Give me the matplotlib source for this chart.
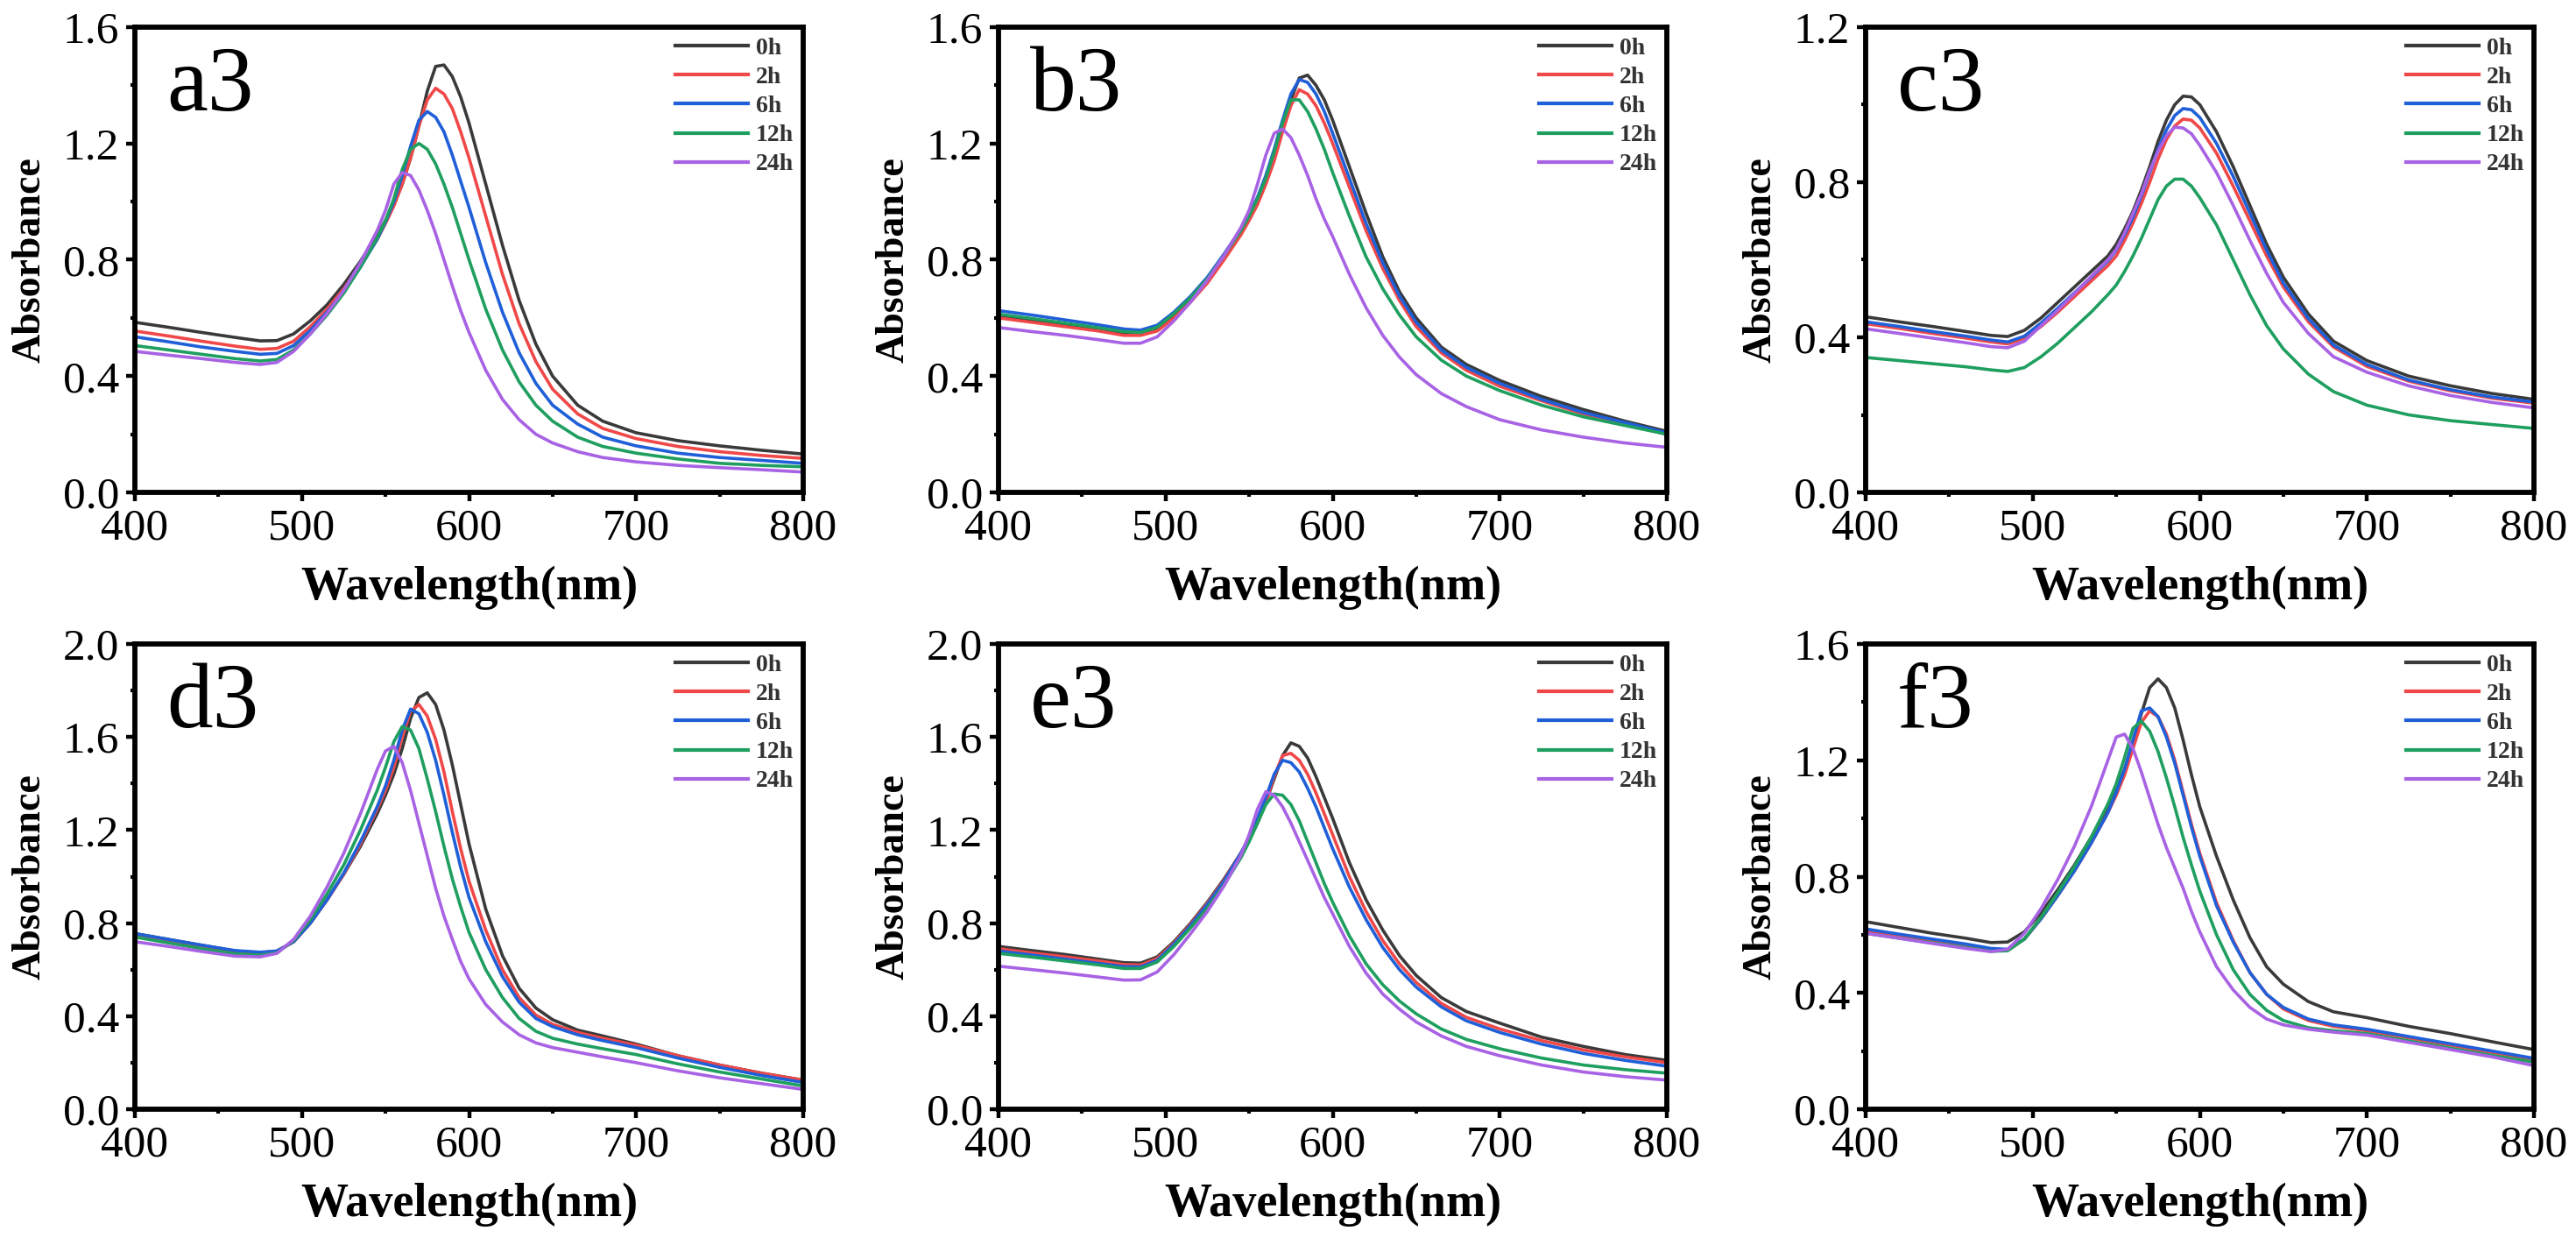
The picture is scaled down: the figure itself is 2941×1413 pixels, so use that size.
import numpy as np
import matplotlib
matplotlib.use('Agg')
import matplotlib.pyplot as plt
from matplotlib.ticker import MultipleLocator

plt.rcParams['font.family'] = ['Liberation Serif', 'DejaVu Serif']

# wavelength grid (nm), shared by all panels
wl = [400, 420, 440, 460, 475, 485, 495, 505, 515, 525, 535, 545, 550, 555, 560,
      565, 570, 575, 580, 585, 590, 595, 600, 610, 620, 630, 640, 650, 665, 680,
      700, 725, 750, 775, 800]

times = ['0h', '2h', '6h', '12h', '24h']
colors = ['#3a3a3a', '#f04848', '#1f5fd8', '#1f9f5f', '#a862e4']

# panel a3
a_0h = [.585, .568, .550, .533, .521, .522, .545, .59, .645, .715, .795, .885, .935, .99, 1.06,
        1.15, 1.26, 1.38, 1.465, 1.47, 1.43, 1.36, 1.27, 1.06, .85, .66, .51, .40, .30, .245,
        .205, .178, .16, .145, .132]
a_2h = [.555, .538, .52, .503, .492, .495, .52, .57, .63, .70, .78, .87, .925, .985, 1.06,
        1.15, 1.26, 1.35, 1.39, 1.37, 1.32, 1.24, 1.15, .95, .75, .58, .45, .355, .27, .22,
        .185, .158, .14, .127, .117]
a_6h = [.535, .518, .50, .485, .475, .478, .505, .557, .62, .69, .775, .87, .93, 1.00, 1.09,
        1.19, 1.28, 1.31, 1.29, 1.24, 1.16, 1.07, .98, .79, .62, .48, .375, .30, .235, .19,
        .16, .135, .12, .11, .10]
a_12h = [.505, .49, .475, .46, .452, .457, .49, .545, .61, .685, .775, .875, .935, 1.01, 1.11,
         1.18, 1.20, 1.18, 1.13, 1.06, .98, .89, .80, .63, .49, .38, .30, .245, .19, .158,
         .135, .115, .10, .093, .088]
a_24h = [.485, .472, .46, .447, .44, .447, .485, .545, .615, .695, .79, .90, .97, 1.06, 1.10,
         1.09, 1.04, .97, .89, .80, .71, .625, .55, .42, .32, .25, .20, .17, .14, .12,
         .105, .093, .085, .078, .07]

# panel b3
b_0h = [.605, .59, .575, .56, .547, .55, .565, .61, .665, .73, .81, .895, .945, 1.00, 1.07,
        1.15, 1.25, 1.35, 1.425, 1.435, 1.40, 1.35, 1.28, 1.12, .96, .81, .69, .60, .50, .44,
        .385, .33, .285, .245, .21]
b_2h = [.60, .585, .57, .555, .54, .54, .555, .60, .655, .72, .80, .885, .935, .99, 1.06,
        1.14, 1.24, 1.33, 1.385, 1.37, 1.33, 1.27, 1.20, 1.05, .90, .77, .66, .57, .48, .42,
        .365, .315, .27, .235, .20]
b_6h = [.625, .61, .593, .576, .562, .558, .575, .62, .675, .74, .82, .905, .955, 1.015, 1.09,
        1.18, 1.28, 1.37, 1.42, 1.41, 1.37, 1.31, 1.235, 1.08, .925, .79, .675, .585, .49, .43,
        .375, .32, .275, .24, .205]
b_12h = [.613, .598, .582, .566, .553, .55, .568, .615, .67, .735, .815, .90, .95, 1.01, 1.08,
         1.17, 1.27, 1.35, 1.35, 1.31, 1.25, 1.18, 1.10, .95, .81, .70, .61, .535, .455, .40,
         .35, .30, .26, .23, .20]
b_24h = [.567, .553, .54, .525, .513, .513, .535, .59, .655, .73, .815, .91, .97, 1.06, 1.16,
         1.235, 1.25, 1.22, 1.16, 1.09, 1.01, .94, .88, .75, .635, .54, .465, .405, .34, .295,
         .25, .215, .19, .17, .155]

# panel c3
c_0h = [.453, .44, .428, .415, .405, .402, .418, .45, .49, .53, .57, .61, .64, .68, .725,
        .78, .84, .905, .96, 1.00, 1.022, 1.02, 1.00, .93, .84, .74, .64, .555, .46, .39,
        .34, .30, .275, .255, .24]
c_2h = [.435, .423, .41, .398, .388, .383, .397, .428, .465, .505, .545, .585, .61, .65, .695,
        .745, .80, .86, .91, .945, .963, .96, .94, .875, .79, .70, .61, .53, .44, .375,
        .325, .287, .262, .243, .23]
c_6h = [.44, .428, .415, .403, .393, .388, .403, .437, .475, .515, .555, .597, .625, .665, .71,
        .765, .825, .885, .935, .972, .99, .987, .967, .90, .815, .72, .625, .54, .448, .38,
        .33, .29, .265, .246, .233]
c_12h = [.348, .34, .332, .324, .316, .312, .322, .35, .385, .425, .465, .51, .535, .57, .61,
         .655, .705, .755, .79, .808, .808, .79, .76, .69, .60, .51, .43, .37, .305, .26,
         .225, .20, .185, .175, .165]
c_24h = [.422, .41, .398, .386, .376, .373, .39, .43, .47, .513, .557, .60, .627, .67, .72,
         .77, .83, .88, .92, .942, .94, .925, .895, .825, .74, .65, .565, .49, .41, .35,
         .31, .275, .25, .232, .218]

# panel d3
d_0h = [.755, .73, .705, .68, .672, .68, .72, .80, .90, 1.01, 1.13, 1.27, 1.35, 1.44, 1.55,
        1.68, 1.77, 1.79, 1.74, 1.63, 1.48, 1.31, 1.14, .86, .66, .52, .435, .385, .34, .315,
        .28, .23, .19, .155, .125]
d_2h = [.745, .72, .697, .675, .67, .678, .72, .80, .90, 1.01, 1.14, 1.29, 1.37, 1.47, 1.60,
        1.71, 1.74, 1.69, 1.59, 1.45, 1.28, 1.12, .98, .77, .60, .48, .405, .365, .33, .305,
        .275, .23, .19, .155, .125]
d_6h = [.755, .73, .705, .682, .675, .68, .72, .80, .90, 1.015, 1.15, 1.30, 1.39, 1.50, 1.63,
        1.72, 1.70, 1.62, 1.50, 1.35, 1.19, 1.04, .91, .72, .57, .46, .39, .355, .32, .295,
        .265, .22, .18, .145, .115]
d_12h = [.74, .715, .69, .668, .662, .672, .725, .815, .925, 1.05, 1.20, 1.37, 1.47, 1.58, 1.645,
         1.63, 1.55, 1.42, 1.28, 1.13, .99, .87, .76, .60, .48, .39, .335, .305, .28, .26,
         .235, .195, .16, .13, .10]
d_24h = [.72, .70, .678, .658, .655, .67, .73, .83, .955, 1.10, 1.27, 1.46, 1.54, 1.56, 1.49,
         1.37, 1.23, 1.09, .95, .83, .73, .635, .56, .45, .375, .32, .285, .265, .245, .225,
         .20, .165, .135, .11, .085]

# panel e3
e_0h = [.70, .682, .665, .645, .63, .628, .655, .72, .80, .89, .99, 1.10, 1.16, 1.23, 1.32,
        1.42, 1.52, 1.575, 1.56, 1.51, 1.43, 1.34, 1.25, 1.06, .90, .77, .66, .575, .48, .42,
        .37, .31, .27, .235, .21]
e_2h = [.69, .672, .655, .637, .622, .62, .648, .715, .795, .885, .985, 1.10, 1.16, 1.235, 1.32,
        1.43, 1.52, 1.53, 1.50, 1.44, 1.36, 1.27, 1.18, 1.00, .85, .725, .625, .545, .455, .395,
        .345, .295, .255, .225, .20]
e_6h = [.68, .663, .645, .627, .613, .612, .64, .71, .79, .88, .98, 1.10, 1.17, 1.25, 1.34,
        1.44, 1.50, 1.49, 1.45, 1.38, 1.30, 1.21, 1.12, .955, .815, .695, .60, .525, .44, .38,
        .33, .28, .24, .21, .185]
e_12h = [.67, .654, .637, .62, .605, .605, .633, .70, .78, .865, .965, 1.08, 1.15, 1.23, 1.31,
         1.355, 1.35, 1.31, 1.24, 1.15, 1.06, .97, .89, .745, .625, .535, .465, .41, .345, .30,
         .26, .22, .19, .17, .155]
e_24h = [.615, .60, .585, .568, .555, .556, .59, .665, .755, .85, .96, 1.09, 1.18, 1.29, 1.365,
         1.35, 1.30, 1.23, 1.15, 1.07, .99, .91, .84, .70, .585, .495, .43, .375, .315, .27,
         .23, .19, .16, .14, .125]

# panel f3
f_0h = [.645, .625, .605, .588, .573, .575, .61, .675, .755, .84, .935, 1.04, 1.10, 1.17, 1.26,
        1.36, 1.45, 1.48, 1.45, 1.38, 1.27, 1.15, 1.04, .87, .72, .59, .49, .43, .37, .335,
        .315, .285, .26, .232, .205]
f_2h = [.615, .597, .58, .563, .547, .547, .585, .655, .735, .82, .915, 1.02, 1.08, 1.15, 1.24,
        1.33, 1.37, 1.35, 1.29, 1.20, 1.09, .98, .88, .71, .58, .47, .395, .345, .305, .285,
        .27, .245, .22, .195, .17]
f_6h = [.62, .602, .585, .568, .553, .55, .585, .655, .735, .82, .915, 1.02, 1.09, 1.17, 1.27,
        1.37, 1.38, 1.35, 1.28, 1.19, 1.08, .97, .87, .70, .575, .47, .395, .35, .31, .29,
        .275, .25, .225, .20, .175]
f_12h = [.605, .588, .572, .556, .543, .545, .585, .66, .745, .835, .935, 1.05, 1.12, 1.21, 1.31,
         1.335, 1.30, 1.23, 1.14, 1.04, .935, .84, .75, .60, .48, .395, .34, .305, .28, .27,
         .26, .235, .21, .185, .162]
f_24h = [.605, .588, .57, .553, .542, .55, .605, .69, .79, .905, 1.04, 1.20, 1.28, 1.29, 1.24,
         1.16, 1.07, .98, .90, .83, .76, .68, .61, .49, .41, .35, .31, .29, .275, .265,
         .255, .23, .205, .18, .15]

panels = [
    ('a3', [a_0h, a_2h, a_6h, a_12h, a_24h], 1.6),
    ('b3', [b_0h, b_2h, b_6h, b_12h, b_24h], 1.6),
    ('c3', [c_0h, c_2h, c_6h, c_12h, c_24h], 1.2),
    ('d3', [d_0h, d_2h, d_6h, d_12h, d_24h], 2.0),
    ('e3', [e_0h, e_2h, e_6h, e_12h, e_24h], 2.0),
    ('f3', [f_0h, f_2h, f_6h, f_12h, f_24h], 1.6),
]

W, H = 2941, 1413
fig = plt.figure(figsize=(W / 100, H / 100), dpi=100)

lefts = [154, 1140, 2130]
tops = [31, 735]
aw, ah = 763, 531

for i, (tag, curves, ytop) in enumerate(panels):
    row, col = divmod(i, 3)
    l, t = lefts[col], tops[row]
    ax = fig.add_axes([l / W, 1 - (t + ah) / H, aw / W, ah / H])
    for lab, col_, y in zip(times, colors, curves):
        ax.plot(wl, y, color=col_, lw=2.6, label=lab)
    ax.set_xlim(400, 800)
    ax.set_ylim(0, ytop)
    ax.xaxis.set_major_locator(MultipleLocator(100))
    ax.xaxis.set_minor_locator(MultipleLocator(50))
    ax.yaxis.set_major_locator(MultipleLocator(0.4))
    ax.yaxis.set_minor_locator(MultipleLocator(0.2))
    ax.yaxis.set_major_formatter(plt.FormatStrFormatter('%.1f'))
    ax.tick_params(which='major', direction='out', length=7, width=3.2,
                   labelsize=37, pad=6, top=False, right=False)
    ax.tick_params(which='minor', direction='out', length=3.5, width=3.0,
                   top=False, right=False)
    for s in ax.spines.values():
        s.set_linewidth(4.2)
    ax.set_xlabel('Wavelength(nm)', fontsize=39, fontweight='bold', va='center')
    ax.set_ylabel('Absorbance', fontsize=33, fontweight='bold', va='center')
    ax.xaxis.set_label_coords(0.5, -0.205)
    ax.yaxis.set_label_coords(-0.156, 0.5)
    ax.text(0.047, 0.821, tag, transform=ax.transAxes, fontsize=76,
            ha='left', va='baseline')
    leg = ax.legend(loc='upper right', bbox_to_anchor=(1.0, 1.0), frameon=False,
                    prop={'size': 20, 'weight': 'bold'}, handlelength=3.0,
                    handletextpad=0.3, labelspacing=0.28, borderaxespad=0.1,
                    borderpad=0.3)
    for t_ in leg.get_texts():
        t_.set_color('#333333')
    for ln in leg.get_lines():
        ln.set_linewidth(3.0)

fig.savefig('out.png', dpi=100)
